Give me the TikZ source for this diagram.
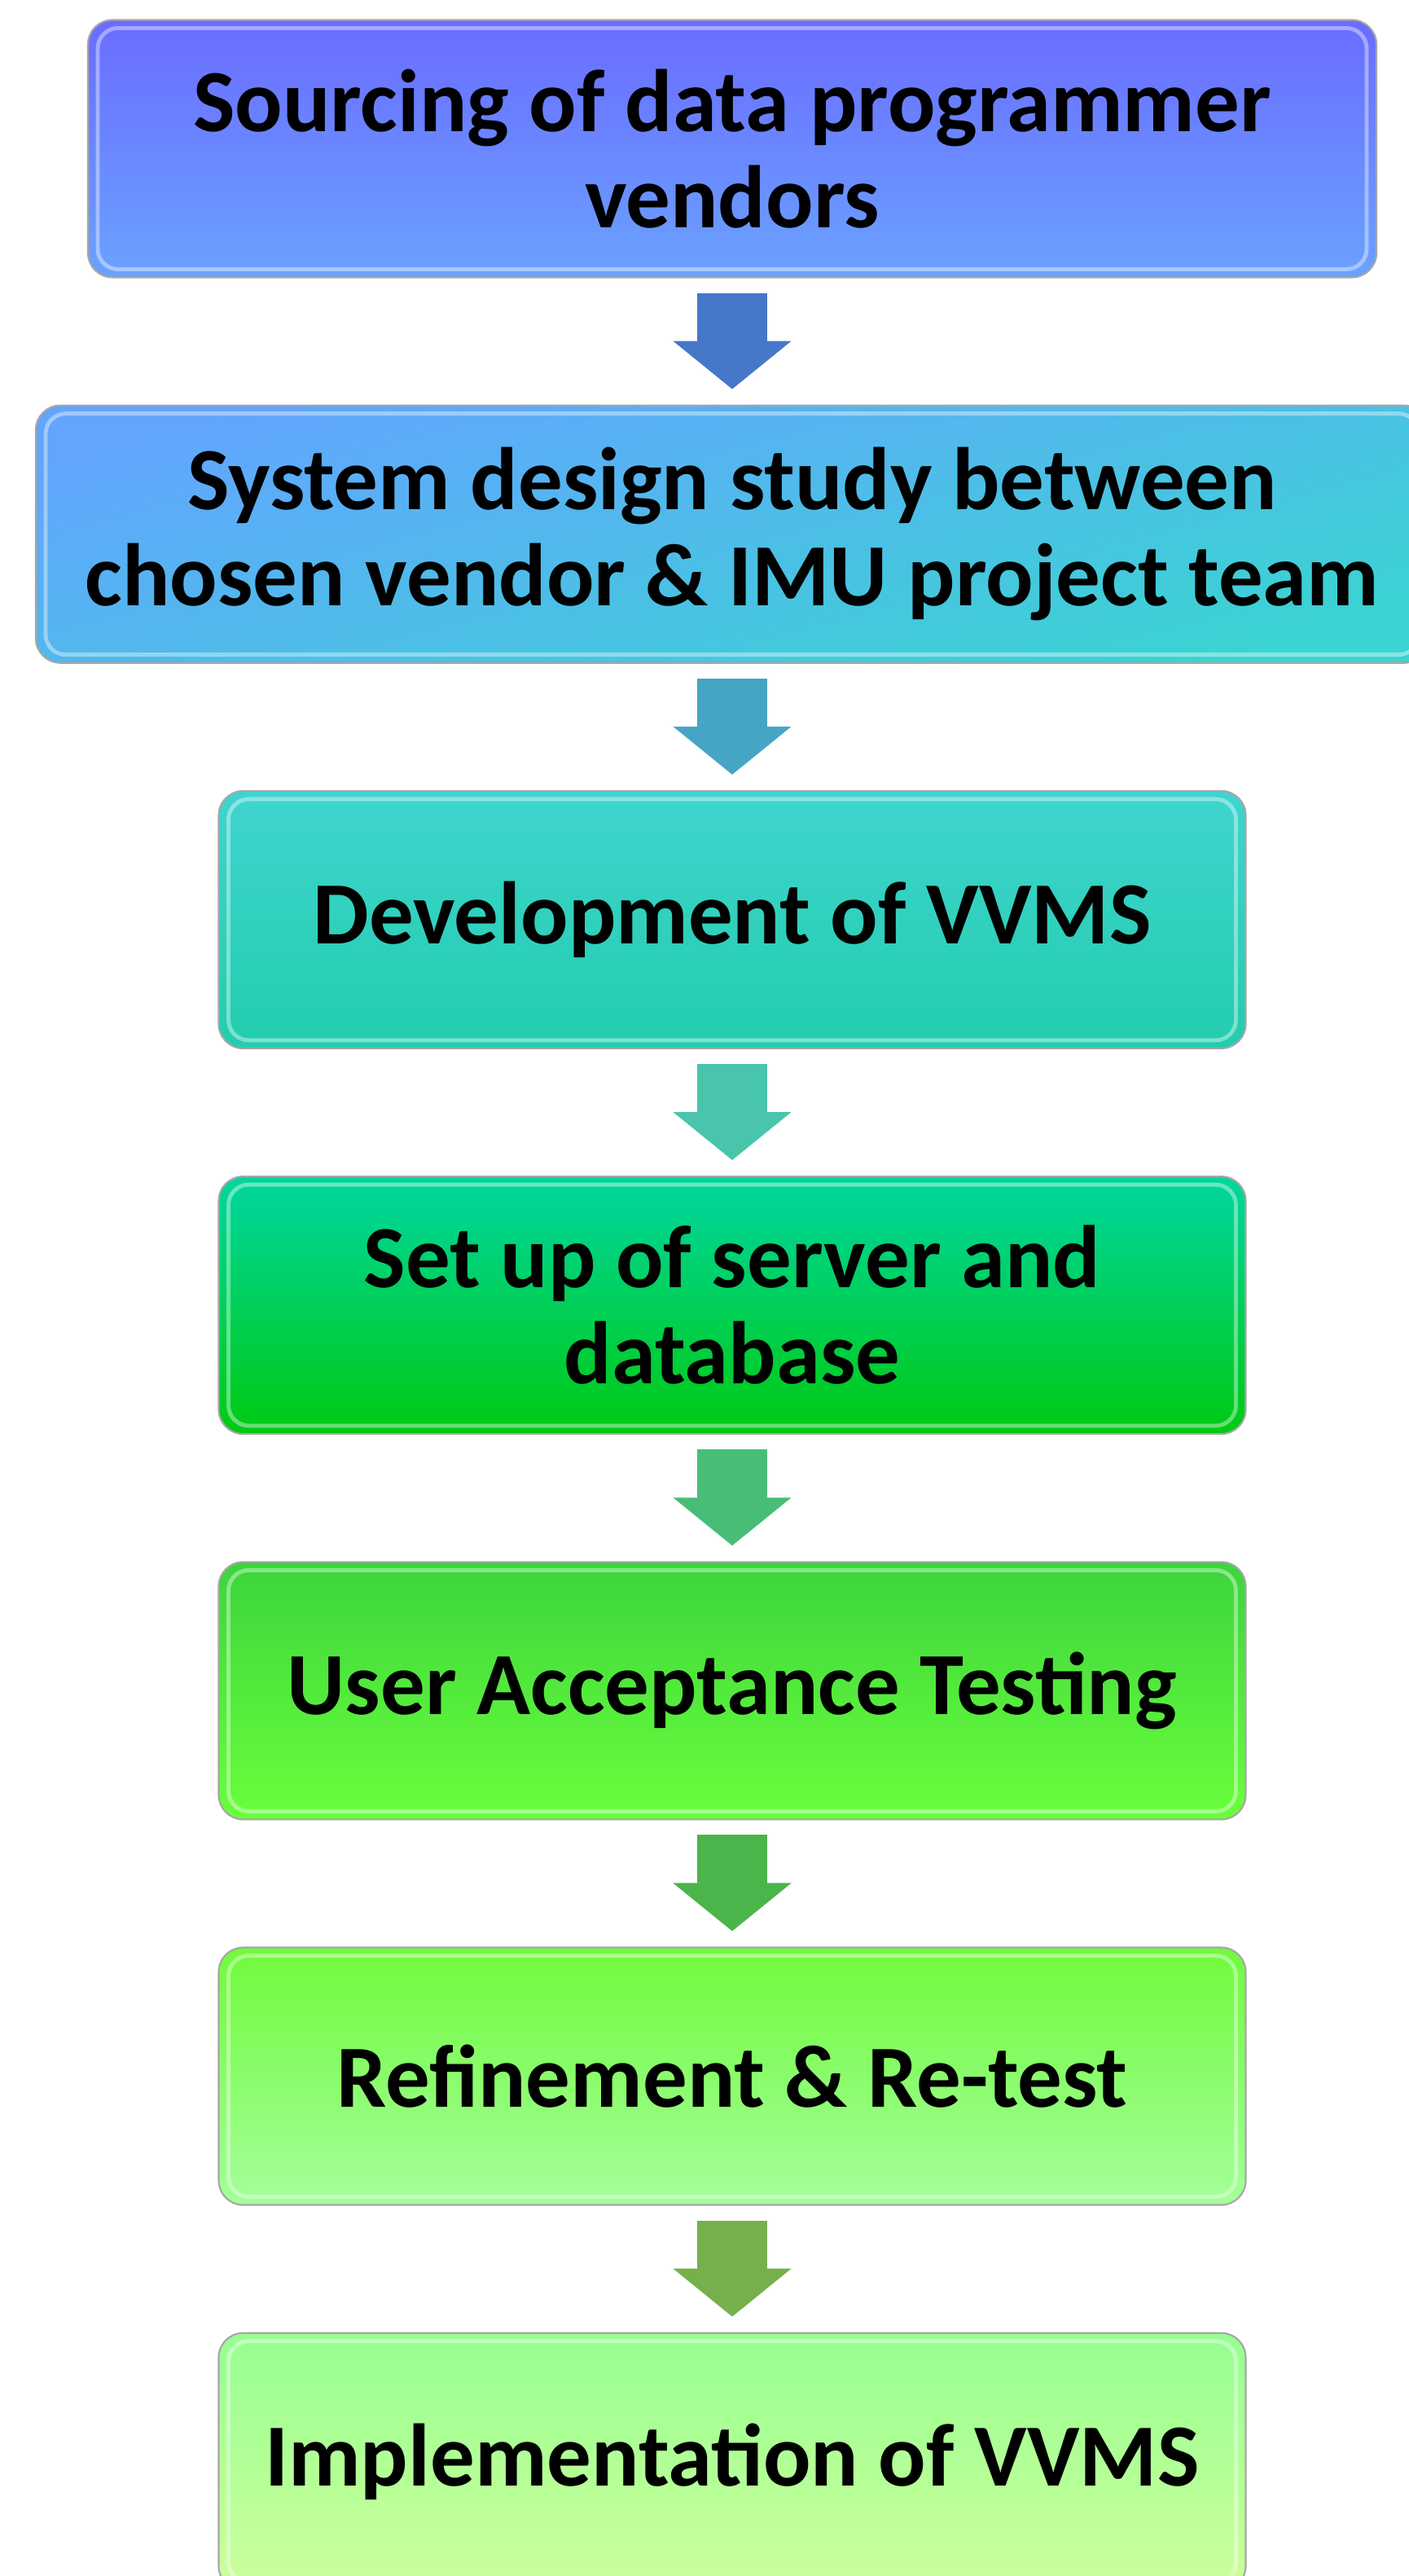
\documentclass[tikz,border=0pt]{standalone}
\usepackage{fontspec}
\setmainfont{Carlito}
\usetikzlibrary{arrows.meta}

\definecolor{boxAtop}{RGB}{106,108,255}
\definecolor{boxAmid}{RGB}{106,152,255}
\definecolor{boxAbot}{RGB}{106,162,255}
\definecolor{boxBtop}{RGB}{98,165,255}
\definecolor{boxBmid}{RGB}{64,205,208}
\definecolor{boxBbot}{RGB}{58,212,210}
\definecolor{boxCtop}{RGB}{64,212,208}
\definecolor{boxCbot}{RGB}{34,205,172}
\definecolor{boxDtop}{RGB}{0,214,160}
\definecolor{boxDmid}{RGB}{0,255,152}
\definecolor{boxDbot}{RGB}{0,202,18}
\definecolor{boxEtop}{RGB}{60,212,60}
\definecolor{boxEmid}{RGB}{100,255,92}
\definecolor{boxEbot}{RGB}{106,255,60}
\definecolor{boxFtop}{RGB}{112,250,60}
\definecolor{boxFmid}{RGB}{160,255,100}
\definecolor{boxFbot}{RGB}{165,255,155}
\definecolor{boxGtop}{RGB}{150,255,145}
\definecolor{boxGmid}{RGB}{165,255,105}
\definecolor{boxGbot}{RGB}{205,255,155}
\definecolor{arrowA}{RGB}{70,119,201}
\definecolor{arrowB}{RGB}{70,165,197}
\definecolor{arrowC}{RGB}{72,197,170}
\definecolor{arrowD}{RGB}{72,189,120}
\definecolor{arrowE}{RGB}{75,180,75}
\definecolor{arrowF}{RGB}{117,176,76}

\begin{document}
\begin{tikzpicture}[
	stepbox/.style={rounded corners=0.3cm, draw=black!35, line width=0.6pt,
		minimum height=3.16cm, inner sep=0pt, align=center,
		font=\fontsize{31}{33.6}\selectfont\bfseries,
		path picture={\draw[white, opacity=0.4, line width=1.4pt, rounded corners=0.25cm]
			([shift={(0.12,-0.1)}]path picture bounding box.north west) rectangle
			([shift={(-0.12,0.1)}]path picture bounding box.south east);}},
	narrowbox/.style={stepbox, minimum width=12.61cm},
	flow/.style={line width=0.86cm, -{Triangle[length=0.59cm,width=1.42cm]},
		shorten <=0.18cm, shorten >=0.19cm}
	]
			\useasboundingbox (0,0) rectangle (17.29,-31.62);
			\draw (8.99,-1.825) node [stepbox, minimum width=15.82cm, top color=boxAtop, middle color=boxAmid, bottom color=boxAbot] (s1) {Sourcing of data programmer\\vendors};
			\draw (8.99,-6.557) node [stepbox, minimum width=17.10cm, top color=boxBtop, middle color=boxBmid, bottom color=boxBbot, shading angle=15] (s2) {System design study between\\chosen vendor \& IMU project team};
			\draw (8.99,-11.289) node [narrowbox, top color=boxCtop, bottom color=boxCbot] (s3) {Development of VVMS};
			\draw (8.99,-16.021) node [narrowbox, top color=boxDtop, middle color=boxDmid, bottom color=boxDbot] (s4) {Set up of server and\\database};
			\draw (8.99,-20.753) node [narrowbox, top color=boxEtop, middle color=boxEmid, bottom color=boxEbot] (s5) {User Acceptance Testing};
			\draw (8.99,-25.485) node [narrowbox, top color=boxFtop, middle color=boxFmid, bottom color=boxFbot] (s6) {Refinement \& Re-test};
			\draw (8.99,-30.217) node [narrowbox, top color=boxGtop, middle color=boxGmid, bottom color=boxGbot] (s7) {Implementation of VVMS};
			\path (s1) edge [flow, draw=arrowA] (s2)
			(s2) edge [flow, draw=arrowB] (s3)
			(s3) edge [flow, draw=arrowC] (s4)
			(s4) edge [flow, draw=arrowD] (s5)
			(s5) edge [flow, draw=arrowE] (s6)
			(s6) edge [flow, draw=arrowF] (s7);
		\end{tikzpicture}
\end{document}
